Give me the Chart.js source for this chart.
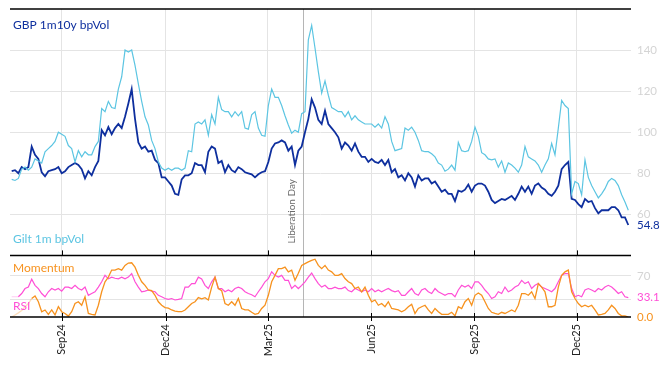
<!DOCTYPE html>
<html>
<head>
<meta charset="utf-8">
<script src="https://cdn.jsdelivr.net/npm/chart.js@4/dist/chart.umd.min.js"></script>
<style>
  html, body { margin: 0; padding: 0; background: #fff; }
</style>
</head>
<body>
<canvas id="chart" width="668" height="366"></canvas>
<script>
// x axis is days after 17 Jul 2024, one sample roughly every 3 days
const sampleStart = 1.5;
const sampleStep = 2.952;
const tickDays = [46, 138, 228.5, 320, 411, 502];
const tickLabels = ["Sep24", "Dec24", "Mar25", "Jun25", "Sep25", "Dec25"];
const liberationDay = 259.5;

const volTicks = [60, 80, 100, 120, 140];
const indTicks = [30, 70];

const gbpVol = [
    81, 81.5, 80, 83, 82, 83, 93, 89, 87, 80.5,
    78.5, 81, 81.5, 82, 83, 80, 81, 83, 84, 85,
    84, 82, 77.5, 81, 79, 83, 86, 101, 98.5, 102.5,
    99, 102, 104, 102, 107.5, 114, 121, 106.5, 95, 92,
    93, 90.5, 91, 86.5, 85, 78, 78, 76, 74, 70,
    69.5, 77, 79, 79, 80, 85, 84, 84, 80.5, 90.5,
    93, 92,
    85, 86, 80.5, 84, 81.5, 80.5, 83, 82, 80.5, 80,
    79.5, 78, 79.5, 80.5, 81, 85.5, 92, 94.5, 95, 96,
    95, 91, 93, 84, 91, 93, 100, 106.5, 116, 112,
    106, 104, 110.5, 104, 102, 100, 97.5, 92, 95, 93.5,
    91, 94.5, 90.5, 88, 88, 85.5, 87, 85.5, 85, 86.5,
    84, 86.5, 80.5, 82, 78, 79, 76.5, 80, 78, 73.5,
    79, 76.5,
    77.5, 77.5, 75, 76, 73.5, 71, 72, 70, 70, 66.5,
    71.5, 71, 72, 74.5, 71, 74, 75, 75, 74, 71,
    67, 65.5, 66.5, 67.5, 67, 68, 69, 67, 70, 73.5,
    71, 73.5, 70, 74, 75, 73, 72, 70, 69, 71,
    74, 82, 84, 85.5, 67.5, 67, 65, 63.5, 67.5, 66,
    66.5, 63, 60.5, 62, 62, 62, 63.5, 63.5, 62, 58.5,
    58.5, 54.8
];

const giltVol = [
    77, 76.5, 77.5, 82, 83, 81.5, 83, 87, 86, 85,
    90.5, 92, 93.5, 95.5, 100, 99, 98, 93.5, 92, 85.5,
    91, 88, 90.5, 89, 89, 93, 95.5, 111.5, 110, 115,
    112, 111.5, 121, 127, 140, 139, 140, 132.5, 123.5, 115,
    107.5, 103.5, 96, 92, 85.5, 82.5, 81.5, 82.5, 81.5, 82.5,
    82.5, 81.5, 82.5, 91, 90.5, 104, 105, 104, 106, 98.5,
    108.5, 104,
    117, 111, 110, 110, 107.5, 110, 108, 110, 102, 101.5,
    108.5, 110, 102, 98.5, 98, 113, 121, 117, 117, 113,
    108, 103.5, 99.5, 101, 100, 109, 110, 145, 152, 141,
    129.5, 119, 125, 118, 112, 111, 110, 110, 107.5, 110,
    106, 108, 106, 105, 104, 104, 104, 102.5, 104, 102,
    107.5, 104, 95.5, 91, 91.5, 92, 102, 101, 102.5, 100,
    96, 91,
    90.5, 90.5, 89.5, 88, 85, 84, 81, 82, 84, 81.5,
    95, 91, 90.5, 91, 95.5, 102.5, 98, 90, 89, 87,
    86.5, 87, 83, 86, 80.5, 85, 84, 82.5, 80.5, 84,
    93, 88, 87, 86, 84, 80.5, 84, 87, 94.5, 89,
    102, 115.5, 113, 111.5, 70, 76, 75, 69.5, 86.5, 78,
    74, 71, 68, 70, 72.5, 76, 77.5, 76.5, 74, 69.5,
    66, 62
];

const momentum = [
    0, 3.5, 7, 11, 17.5, 23, 31.5, 36, 26, 9,
    12, 4.5, 12, 3.5, 17.5, 9, 6, 1.5, 9, 23,
    26, 20, 34.5, 6, 4.5, 3.5, 20, 43, 60, 68,
    80, 80, 82.5, 80, 88, 92, 92.5, 85, 71, 60,
    54, 46, 45, 37, 26, 20, 16, 15, 12, 10,
    9, 9, 12, 17.5, 23, 26, 33, 31, 33, 29,
    51, 68,
    48.5, 45, 23, 20, 26, 20, 31.5, 14.5, 12, 12,
    8, 4.5, 6, 14.5, 20, 37, 60, 71, 82.5, 82.5,
    85, 77, 80, 62.5, 74.5, 88, 91, 94, 96.5, 98.5,
    88, 82.5, 88, 80, 77, 71, 71, 74, 65.5, 60,
    57, 48.5, 51, 43, 51, 37, 26, 29, 20, 23,
    17.5, 26, 14.5, 13.5, 12, 9, 12, 17.5, 21.5, 6,
    14.5, 17.5,
    20, 12, 6, 14.5, 9, 4.5, 4.5, 4.5, 8, 2,
    17.5, 14.5, 26, 31.5, 20, 37, 41, 37, 26, 14.5,
    8, 6, 4.5, 8, 6, 9, 12, 9, 20, 40,
    40, 37, 43, 31.5, 57, 51, 43, 17.5, 17.5, 20,
    51, 71, 77, 80, 43, 31.5, 23, 17.5, 20, 17.5,
    20, 12, 3.5, 4.5, 6, 12, 20, 14.5, 6, 2,
    2, 0
];

const rsi = [
    34.5, 34.5, 34.5, 40, 48.5, 51, 64.5, 54, 48.5, 40,
    34.5, 43, 48.5, 46, 48.5, 44, 51, 51, 48.5, 54,
    48.5, 46, 51, 37, 40, 43, 51, 60, 71, 65,
    68, 66, 65, 68, 65, 68, 74, 60, 51, 43,
    44, 46, 44, 43, 37, 34.5, 31.5, 30, 31.5, 29,
    30, 31.5, 51, 51, 57, 57, 68, 65, 54, 48.5,
    60, 68,
    48.5, 48.5, 43, 46, 43, 48.5, 51, 48.5, 43, 40,
    38, 34.5, 43, 51, 60, 65.5, 77, 71, 68, 71,
    62.5, 62.5, 48.5, 54, 48.5, 54, 60, 68, 75, 65.5,
    57, 51, 54, 48.5, 48.5, 51, 48.5, 48.5, 51, 45,
    43, 48.5, 46, 43, 46, 43, 48.5, 43, 46, 43,
    46, 48.5, 45, 43, 45, 37, 37, 43, 48.5, 40,
    37, 46,
    48.5, 43, 40, 48.5, 43, 40, 37, 40, 40, 34.5,
    46, 54, 51, 54, 48.5, 60, 60, 54, 46, 40,
    31.5, 34.5, 43, 40, 51, 43, 46, 51, 54, 62.5,
    57, 60, 48.5, 54, 57, 51, 48.5, 46, 43, 48.5,
    60, 71, 74, 74, 48.5, 34.5, 37, 34.5, 46, 48.5,
    46, 43, 48.5, 46, 51, 54, 51, 46, 40, 43,
    34.5, 33.1
];

// first few points are the indicator warm-up, drawn faded
const momentumWarmup = 6;
const rsiWarmup = 2;

const navy = "#0e2f9e";
const sky = "#5cc5e2";
const orange = "#f7921e";
const pink = "#ff4fd6";
const fontFamily = "Lato, 'Open Sans', sans-serif";

const toPoints = arr => arr.map((v, i) => ({ x: sampleStart + i * sampleStep, y: v }));

const fadeFrom = (limit, faded) => ctx => ctx.p0DataIndex < limit ? faded : undefined;

// right axes: fixed width and no extra room for half-height labels
const fitRight = s => {
    s.width = 37;
    s.paddingTop = 0;
    s.paddingBottom = 0;
};

const decor = {
    id: "decor",
    beforeDatasetsDraw(chart) {
        const { ctx, chartArea, scales } = chart;
        // liberation day marker
        const lx = Math.round(scales.x.getPixelForValue(liberationDay)) + 0.5;
        ctx.save();
        ctx.strokeStyle = "#b5b5b5";
        ctx.lineWidth = 1;
        ctx.beginPath();
        ctx.moveTo(lx, chartArea.top);
        ctx.lineTo(lx, chartArea.bottom);
        ctx.stroke();
        ctx.translate(lx - 12, scales.vol.bottom - 12);
        ctx.rotate(-Math.PI / 2);
        ctx.fillStyle = "#6b6b6b";
        ctx.font = "10px " + fontFamily;
        ctx.textAlign = "left";
        ctx.textBaseline = "middle";
        ctx.fillText("Liberation Day", 0, 0);
        ctx.restore();
    },
    afterDraw(chart) {
        const { ctx, chartArea, scales } = chart;
        const vol = scales.vol, ind = scales.ind;
        ctx.save();

        // panel borders
        ctx.strokeStyle = "#000";
        ctx.lineWidth = 1.5;
        [chartArea.top, vol.bottom, chartArea.bottom].forEach(y => {
            ctx.beginPath();
            ctx.moveTo(chartArea.left, y);
            ctx.lineTo(chartArea.right, y);
            ctx.stroke();
        });
        ctx.lineWidth = 1;
        tickDays.forEach(d => {
            const x = Math.round(scales.x.getPixelForValue(d)) + 0.5;
            ctx.beginPath();
            ctx.moveTo(x, vol.bottom - 5);
            ctx.lineTo(x, vol.bottom);
            ctx.moveTo(x, chartArea.bottom - 4);
            ctx.lineTo(x, chartArea.bottom + 4);
            ctx.stroke();
        });

        // series names
        ctx.font = "12px " + fontFamily;
        ctx.textAlign = "left";
        ctx.textBaseline = "middle";
        ctx.fillStyle = navy;
        ctx.fillText("GBP 1m10y bpVol", chartArea.left + 3, chartArea.top + 16);
        ctx.fillStyle = sky;
        ctx.fillText("Gilt 1m bpVol", chartArea.left + 3, vol.bottom - 16);
        ctx.fillStyle = orange;
        ctx.fillText("Momentum", chartArea.left + 3, ind.top + 13);
        ctx.fillStyle = pink;
        ctx.fillText("RSI", chartArea.left + 3, ind.bottom - 11);

        // last values on the right axis
        const lx = chartArea.right + 6;
        ctx.font = "11.5px " + fontFamily;
        const lastGbp = gbpVol[gbpVol.length - 1];
        const lastRsi = rsi[rsi.length - 1];
        const lastMom = momentum[momentum.length - 1];
        ctx.fillStyle = navy;
        ctx.fillText(lastGbp.toFixed(1), lx, vol.getPixelForValue(lastGbp));
        ctx.fillStyle = pink;
        ctx.fillText(lastRsi.toFixed(1), lx, ind.getPixelForValue(lastRsi));
        ctx.fillStyle = orange;
        ctx.fillText(lastMom.toFixed(1), lx, ind.getPixelForValue(lastMom));
        ctx.restore();
    }
};

const ctx = document.getElementById("chart").getContext("2d");

new Chart(ctx, {
    type: "line",
    data: {
        datasets: [{
            label: "Gilt 1m bpVol",
            data: toPoints(giltVol),
            yAxisID: "vol",
            borderColor: sky,
            borderWidth: 1.2
        }, {
            label: "GBP 1m10y bpVol",
            data: toPoints(gbpVol),
            yAxisID: "vol",
            borderColor: navy,
            borderWidth: 1.8
        }, {
            label: "Momentum",
            data: toPoints(momentum),
            yAxisID: "ind",
            borderColor: orange,
            borderWidth: 1.3,
            segment: { borderColor: fadeFrom(momentumWarmup, "rgba(247,146,30,0.3)") }
        }, {
            label: "RSI",
            data: toPoints(rsi),
            yAxisID: "ind",
            borderColor: pink,
            borderWidth: 1.2,
            segment: { borderColor: fadeFrom(rsiWarmup, "rgba(255,79,214,0.3)") }
        }]
    },
    options: {
        responsive: false,
        animation: false,
        layout: { padding: { left: 10, top: 9, right: 0, bottom: 0 } },
        elements: {
            point: { radius: 0 },
            line: { tension: 0 }
        },
        plugins: {
            legend: { display: false },
            tooltip: { enabled: false }
        },
        scales: {
            x: {
                type: "linear",
                min: 0,
                max: 550,
                border: { display: false },
                grid: { color: "#e4e4e4", drawTicks: false },
                afterBuildTicks: s => { s.ticks = tickDays.map(v => ({ value: v })); },
                afterFit: s => { s.height = 49; },
                ticks: {
                    callback: (v, i) => tickLabels[i],
                    minRotation: 90,
                    maxRotation: 90,
                    padding: 7,
                    color: "#222",
                    font: { family: fontFamily, size: 11 }
                }
            },
            vol: {
                type: "linear",
                position: "right",
                stack: "panes",
                stackWeight: 4,
                min: 40,
                max: 160,
                border: { display: false },
                grid: { color: "#e4e4e4", drawTicks: false },
                afterBuildTicks: s => { s.ticks = volTicks.map(v => ({ value: v })); },
                afterFit: fitRight,
                ticks: {
                    padding: 6,
                    color: "#d4d4d4",
                    font: { family: fontFamily, size: 11.5 }
                }
            },
            ind: {
                type: "linear",
                position: "right",
                stack: "panes",
                stackWeight: 1,
                min: 0,
                max: 105,
                border: { display: false },
                grid: { color: "#e4e4e4", drawTicks: false },
                afterBuildTicks: s => { s.ticks = indTicks.map(v => ({ value: v })); },
                afterFit: fitRight,
                ticks: {
                    callback: v => v === 70 ? "70" : "",
                    padding: 6,
                    color: "#d4d4d4",
                    font: { family: fontFamily, size: 11.5 }
                }
            }
        }
    },
    plugins: [decor]
});
</script>
</body>
</html>
